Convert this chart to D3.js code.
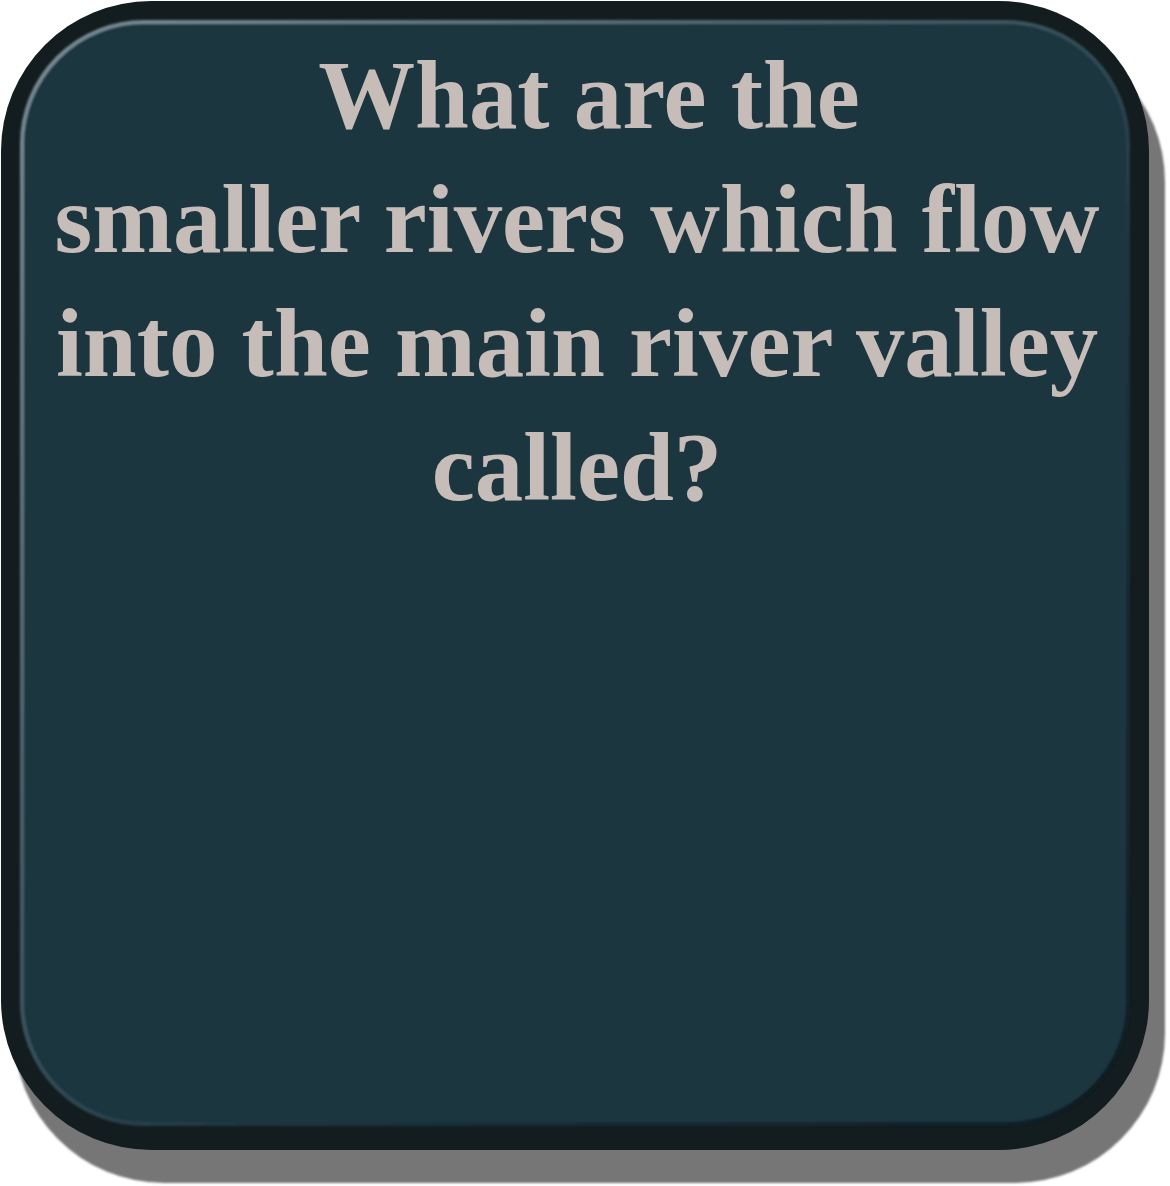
<!DOCTYPE html>
<html>
<head>
<meta charset="utf-8">
<script src="https://cdn.jsdelivr.net/npm/d3@7"></script>
<style>
  html, body { margin: 0; padding: 0; background: #fff; }
  svg { display: block; }
</style>
</head>
<body>
<svg id="card" width="1170" height="1186"></svg>
<script>
// 카드 문구 (줄 단위)
const lines = ["What are the", "smaller rivers which flow", "into the main river valley", "called?"];

const W = 1170, H = 1186;
const svg = d3.select("#card");
const defs = svg.append("defs");

// 그림자 블러
defs.append("filter").attr("id", "blur")
  .append("feGaussianBlur").attr("stdDeviation", 1.2);

// 안쪽 테두리 하이라이트 (왼쪽 위 밝게, 오른쪽 아래 어둡게)
const rim = defs.append("linearGradient").attr("id", "rim")
  .attr("x1", 0).attr("y1", 0).attr("x2", 1).attr("y2", 1);
rim.append("stop").attr("offset", "0%").attr("stop-color", "#7a8f96");
rim.append("stop").attr("offset", "45%").attr("stop-color", "#3b555e");
rim.append("stop").attr("offset", "60%").attr("stop-color", "#1c3640");
rim.append("stop").attr("offset", "100%").attr("stop-color", "#0e1d22");

const inner = defs.append("filter").attr("id", "soft");
inner.append("feGaussianBlur").attr("stdDeviation", 1);

// 그림자
svg.append("rect")
  .attr("x", 14).attr("y", 32).attr("width", 1151).attr("height", 1151)
  .attr("rx", 150).attr("ry", 150)
  .attr("fill", "#767676")
  .attr("filter", "url(#blur)");

// 바깥 어두운 틀
svg.append("rect")
  .attr("x", 1).attr("y", 1).attr("width", 1148).attr("height", 1149)
  .attr("rx", 150).attr("ry", 150)
  .attr("fill", "#131c1e");

// 안쪽 면 (테두리 빛)
svg.append("rect")
  .attr("x", 22).attr("y", 22).attr("width", 1106).attr("height", 1102)
  .attr("rx", 122).attr("ry", 122)
  .attr("fill", "#1c3640")
  .attr("stroke", "url(#rim)")
  .attr("stroke-width", 4)
  .attr("filter", "url(#soft)");

svg.append("rect")
  .attr("x", 27).attr("y", 27).attr("width", 1096).attr("height", 1092)
  .attr("rx", 117).attr("ry", 117)
  .attr("fill", "#1c3640");

// 글자
const cx = 577, top0 = 128, step = 124;
const text = svg.append("g")
  .attr("font-family", "'Liberation Serif', 'DejaVu Serif', serif")
  .attr("font-weight", "bold")
  .attr("fill", "#c7bdb8")
  .attr("text-anchor", "middle");

const t = text.selectAll("text")
  .data(lines)
  .join("text")
  .attr("x", cx)
  .attr("dx", (d, i) => i === 0 ? 12 : 0) // 첫 줄은 원본에서 살짝 오른쪽
  .attr("y", (d, i) => top0 + i * step)
  .attr("font-size", 96)
  .text(d => d);

// 가장 긴 줄 폭을 1045px 정도로 맞춤
const widest = d3.max(t.nodes(), n => n.getComputedTextLength());
const fs = 96 * 1045 / widest;
t.attr("font-size", fs);
</script>
</body>
</html>
